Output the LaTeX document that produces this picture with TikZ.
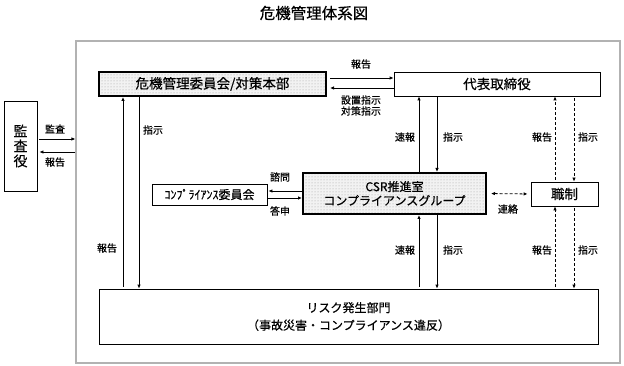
\documentclass[tikz,border=0pt]{standalone}
\usepackage{fontspec}
\setmainfont{Noto Sans CJK JP}[FakeBold=0.5]
\usetikzlibrary{arrows.meta,patterns}

\tikzset{
  box/.style={draw,line width=0.8pt,inner sep=0pt,align=center},
  dotbox/.style={box,line width=2pt,preaction={fill=gray!10},
    pattern=dots,pattern color=gray!75},
  lbl/.style={font=\fontsize{10}{11}\selectfont,inner sep=0pt,align=center},
  arr/.style={line width=0.8pt,-{Latex[length=4pt,width=3.5pt]}},
  darr/.style={arr,dash pattern=on 3pt off 2pt}
}

\begin{document}
\begin{tikzpicture}[x=1pt,y=-1pt,
  line join=miter,
  every node/.style={font=\fontsize{13.5}{15}\selectfont}]

  \useasboundingbox (0,0) rectangle (624,366);

  % 矢印の位置
  \coordinate (kA) at (123,0);
  \coordinate (kB) at (139,0);
  \coordinate (cA) at (419,0);
  \coordinate (cB) at (437,0);
  \coordinate (sA) at (555,0);
  \coordinate (sB) at (574,0);
  \coordinate (hA) at (0,78);
  \coordinate (hB) at (0,88);
  \coordinate (aA) at (0,139);
  \coordinate (aB) at (0,152);
  \coordinate (mA) at (0,191);
  \coordinate (mB) at (0,198);

  % 表題と外枠
  \node[font=\fontsize{15.5}{17}\selectfont] (title) at (314,13) {危機管理体系図};
  \node[draw=gray!60,line width=1.2pt,minimum width=544pt,minimum height=322pt,
        inner sep=0pt] (frame) at (348,202) {};

  % 組織
  \node[box,minimum width=33pt,minimum height=90pt,
        font=\fontsize{14}{15}\selectfont] (audit) at (20.5,146) {監\\査\\役};
  \node[dotbox,minimum width=227pt,minimum height=24pt] (crisis) at (212.5,84)
    {危機管理委員会/対策本部};
  \node[box,minimum width=206pt,minimum height=24pt] (ceo) at (497,84) {代表取締役};
  \node[dotbox,minimum width=183pt,minimum height=41pt,
        font=\fontsize{12}{14}\selectfont] (csr) at (394.5,193.5)
    {CSR推進室\\コンプライアンスグループ};
  \node[box,minimum width=115pt,minimum height=21pt,
        font=\fontsize{12}{14}\selectfont] (comp) at (209.5,194.5) {ｺﾝﾌﾟﾗｲｱﾝｽ委員会};
  \node[box,minimum width=67pt,minimum height=24pt] (shoku) at (564.5,194) {職制};
  \node[box,minimum width=499pt,minimum height=55pt,
        font=\fontsize{12}{17.5}\selectfont] (risk) at (348.5,316.5)
    {リスク発生部門\\（事故災害・コンプライアンス違反）};

  % 危機管理委員会と代表取締役
  \draw[arr,shorten <=3pt] (crisis.east |- hA) -- (ceo.west |- hA);
  \draw[arr,shorten >=3pt] (ceo.west |- hB) -- (crisis.east |- hB);

  % 監査役
  \draw[arr,shorten <=2pt] (audit.east |- aA) -- (frame.west |- aA);
  \draw[arr,shorten >=2pt] (frame.west |- aB) -- (audit.east |- aB);

  % 縦の矢印
  \draw[arr,shorten <=2pt] (risk.north -| kA) -- (crisis.south -| kA);
  \draw[arr] (crisis.south -| kB) -- (risk.north -| kB);
  \draw[arr] (csr.north -| cA) -- (ceo.south -| cA);
  \draw[arr] (ceo.south -| cB) -- (csr.north -| cB);
  \draw[arr,shorten <=2pt] (risk.north -| cA) -- (csr.south -| cA);
  \draw[arr] (csr.south -| cB) -- (risk.north -| cB);
  \draw[darr,shorten <=2pt] (shoku.north -| sA) -- (ceo.south -| sA);
  \draw[darr,shorten <=2pt] (ceo.south -| sB) -- (shoku.north -| sB);
  \draw[darr,shorten <=2pt] (risk.north -| sA) -- (shoku.south -| sA);
  \draw[darr,shorten <=2pt] (shoku.south -| sB) -- (risk.north -| sB);

  % 諮問・答申、連絡
  \draw[arr,shorten >=1pt] (csr.west |- mA) -- (comp.east |- mA);
  \draw[arr,shorten <=1pt] (comp.east |- mB) -- (csr.west |- mB);
  \draw[darr,{Latex[length=4pt,width=3.5pt]}-{Latex[length=4pt,width=3.5pt]},
        shorten <=4pt,shorten >=3pt] (csr.east) -- (shoku.west);

  % ラベル
  \node[lbl] (l1) at (361,64) {報告};
  \node[lbl] (l2) at (361,105.5) {設置指示\\対策指示};
  \node[lbl] (l3) at (55,129) {監査};
  \node[lbl] (l4) at (55,162) {報告};
  \node[lbl] (l5) at (153,130) {指示};
  \node[lbl] (l6) at (107,248) {報告};
  \node[lbl] (l7) at (405,137) {速報};
  \node[lbl] (l8) at (453,137) {指示};
  \node[lbl] (l9) at (405,250) {速報};
  \node[lbl] (l10) at (453,250) {指示};
  \node[lbl] (l11) at (542,137) {報告};
  \node[lbl] (l12) at (588,137) {指示};
  \node[lbl] (l13) at (542,250) {報告};
  \node[lbl] (l14) at (588,250) {指示};
  \node[lbl] (l15) at (508,209) {連絡};
  \node[lbl] (l16) at (280,177) {諮問};
  \node[lbl] (l17) at (280,211) {答申};

\end{tikzpicture}
\end{document}
